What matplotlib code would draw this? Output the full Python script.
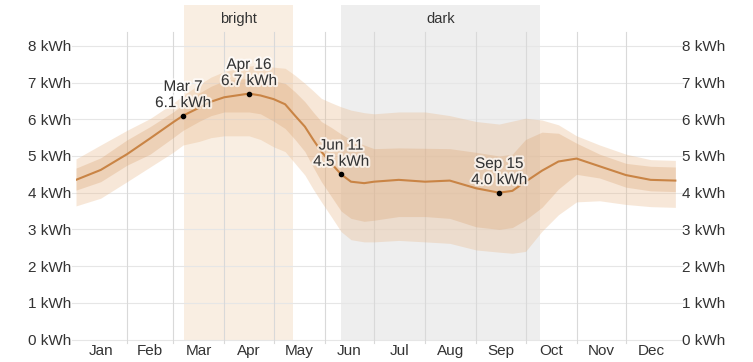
import matplotlib
matplotlib.use("Agg")
import matplotlib.pyplot as plt
import matplotlib.patheffects as pe
import matplotlib.transforms as mtransforms

plt.rcParams['font.family'] = ['Liberation Sans', 'DejaVu Sans']

# ---- data ----
days = [0, 15, 31, 45, 59, 65, 75, 82, 90, 105, 112, 120, 127, 133, 139, 144,
        149, 155, 161, 167, 175, 181, 196, 212, 227, 243, 257, 265, 273, 283,
        293, 304, 318, 334, 349, 364]
median = [4.35, 4.62, 5.05, 5.48, 5.92, 6.10, 6.32, 6.48, 6.60, 6.70, 6.65, 6.55,
          6.41, 6.10, 5.80, 5.45, 5.12, 4.80, 4.50, 4.30, 4.26, 4.30, 4.35, 4.30,
          4.33, 4.12, 4.00, 4.05, 4.30, 4.60, 4.85, 4.93, 4.72, 4.48, 4.35, 4.33]
p90 = [4.92, 5.30, 5.70, 6.02, 6.44, 6.65, 6.95, 7.15, 7.30, 7.45, 7.48, 7.42,
       7.39, 7.20, 6.98, 6.78, 6.57, 6.45, 6.34, 6.25, 6.18, 6.15, 6.20, 6.20,
       6.10, 5.94, 5.87, 5.95, 6.03, 5.98, 5.85, 5.55, 5.30, 5.05, 4.90, 4.88]
p75 = [4.67, 4.95, 5.44, 5.80, 6.20, 6.40, 6.72, 6.90, 7.05, 7.12, 7.16, 7.05,
       6.98, 6.75, 6.48, 6.20, 5.94, 5.78, 5.60, 5.44, 5.30, 5.20, 5.22, 5.21,
       5.20, 5.10, 5.00, 5.05, 5.45, 5.65, 5.62, 5.35, 5.05, 4.80, 4.72, 4.70]
p25 = [4.07, 4.30, 4.75, 5.05, 5.50, 5.70, 5.95, 6.10, 6.20, 6.20, 6.15, 5.95,
       5.75, 5.45, 5.12, 4.70, 4.30, 3.90, 3.50, 3.30, 3.22, 3.25, 3.35, 3.35,
       3.30, 3.07, 3.00, 3.05, 3.26, 3.60, 4.10, 4.50, 4.40, 4.15, 4.05, 4.03]
p10 = [3.64, 3.85, 4.30, 4.70, 5.10, 5.30, 5.40, 5.50, 5.55, 5.55, 5.45, 5.25,
       5.12, 4.80, 4.48, 4.10, 3.75, 3.35, 2.94, 2.72, 2.66, 2.66, 2.70, 2.66,
       2.62, 2.44, 2.38, 2.35, 2.40, 2.95, 3.40, 3.75, 3.78, 3.68, 3.62, 3.60]

month_starts = [0, 31, 59, 90, 120, 151, 181, 212, 243, 273, 304, 334, 365]
month_labels = ['Jan', 'Feb', 'Mar', 'Apr', 'May', 'Jun', 'Jul', 'Aug', 'Sep',
                'Oct', 'Nov', 'Dec']
yticks = [0, 1, 2, 3, 4, 5, 6, 7, 8]

bright_season = (65.5, 132)   # Mar 7 - May 12
dark_season = (161, 282)      # Jun 11 - Oct 9
season_labels = ['bright', 'dark']

ann_days = [65, 105, 161, 257]
ann_vals = [6.1, 6.7, 4.5, 4.0]
ann_text = ['Mar 7', 'Apr 16', 'Jun 11', 'Sep 15']

# ---- figure ----
W, H = 753, 362
fig = plt.figure(figsize=(W / 100, H / 100), dpi=100)
left, right = 76, 677
bottom_px, top_px = 339.5, 5
ax = fig.add_axes([left / W, (H - bottom_px) / H, (right - left) / W,
                   (bottom_px - top_px) / H])
ymax = (bottom_px - top_px) / 36.7
ax.set_xlim(0, 365)
ax.set_ylim(0, ymax)
for s in ax.spines.values():
    s.set_visible(False)

text_color = '#333333'
fs = 11
trans = mtransforms.blended_transform_factory(ax.transData, ax.transAxes)

# season bands
ax.axvspan(*bright_season, ymin=0.0, ymax=1.0, color='#f9eee2', lw=0, zorder=0)
ax.axvspan(*dark_season, ymin=0.0, ymax=1.0, color='#eeeeee', lw=0, zorder=0)
for (a, b), lab in zip([bright_season, dark_season], season_labels):
    ax.text((a + b) / 2, (bottom_px - 19) / (bottom_px - top_px), lab,
            transform=trans, ha='center', va='center', fontsize=fs - 0.5,
            color=text_color)

# gridlines
ytrans = mtransforms.blended_transform_factory(ax.transAxes, ax.transData)
for v in yticks:
    ax.plot([-0.007, 1.01], [v, v], transform=ytrans, color='#e6e6e6',
            lw=0.8, clip_on=False, zorder=1)
vtop = (bottom_px - 32) / (bottom_px - top_px)
vbot = (bottom_px - 343) / (bottom_px - top_px)
for m in month_starts[1:-1]:
    ax.plot([m, m], [vbot, vtop], transform=trans, color='#d9d9d9', lw=0.8,
            clip_on=False, zorder=1)

# bands
ax.fill_between(days, p10, p90, color='#e8b88a', alpha=0.33, lw=0, zorder=2)
ax.fill_between(days, p25, p75, color='#dba676', alpha=0.33, lw=0, zorder=3)
ax.plot(days, median, color='#c98445', lw=1.5, zorder=4)

# annotations
ax.scatter(ann_days, ann_vals, s=9, color='black', zorder=5)
for d, v, t in zip(ann_days, ann_vals, ann_text):
    ax.annotate(f'{t}\n{v:.1f} kWh', (d, v), xytext=(0, 4),
                textcoords='offset points', ha='center', va='bottom',
                fontsize=fs, color=text_color, linespacing=1.2, zorder=6,
                path_effects=[pe.withStroke(linewidth=3, foreground='white',
                                            alpha=0.7)])

# axes labels
ax.set_yticks(yticks)
ax.set_yticklabels([f'{v} kWh' for v in yticks])
ax.tick_params(axis='y', which='both', length=0, pad=3.5, labelsize=fs,
               labelcolor=text_color, labelright=True, right=False)
mids = [(month_starts[i] + month_starts[i + 1]) / 2 for i in range(12)]
ax.set_xticks(mids)
ax.set_xticklabels(month_labels)
ax.tick_params(axis='x', length=0, pad=3, labelsize=fs, labelcolor=text_color)
ax.set_facecolor('white')

fig.savefig('out.png', dpi=100)
